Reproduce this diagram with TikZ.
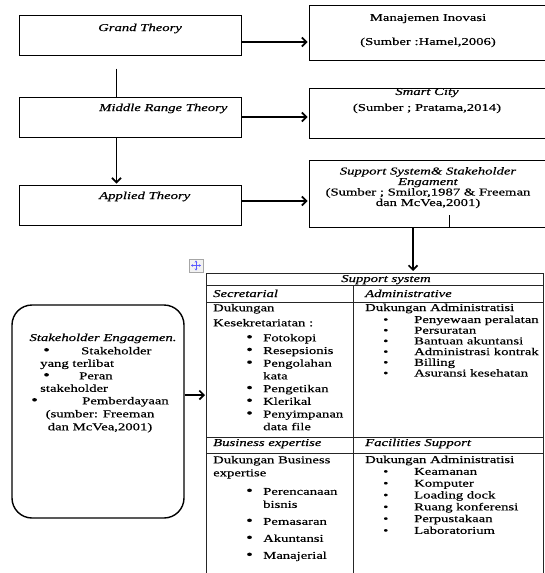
\documentclass[tikz,border=0pt]{standalone}
\usepackage{fontspec}
\setmainfont[FakeStretch=1.4,FakeBold=0.4]{Liberation Serif}
\usetikzlibrary{arrows.meta}

\newcommand{\itm}[2][17pt]{\makebox[#1][l]{\scalebox{1.3}{\textbullet}}#2}
\newcommand{\itms}[2][31pt]{\makebox[#1][l]{\textbullet}#2}
\newcommand{\cnt}[2][17pt]{\hspace*{#1}#2}

\tikzset{
  box/.style={draw, line width=1pt, inner sep=0pt},
  rbox/.style={draw, line width=1.4pt, rounded corners=20pt, inner sep=0pt},
  link/.style={line width=1.7pt},
  conn/.style={link, -{Straight Barb[length=4.5pt,width=9pt,line width=1.7pt]}},
  grid/.style={line width=0.8pt, draw=black!85},
  txt/.style={inner sep=0pt, font=\fontsize{10.5}{12}\selectfont},
  ltxt/.style={txt, align=left, anchor=north west},
  ctxt/.style={txt, align=center, anchor=north},
}

\begin{document}
\begin{tikzpicture}[x=1pt,y=-1pt]
\useasboundingbox (0,0) rectangle (544,573);

% theory boxes
\node[box, minimum width=222pt, minimum height=40pt] (grand) at (130,35) {};
\node[box, minimum width=222pt, minimum height=40pt] (middle) at (130,117) {};
\node[box, minimum width=222pt, minimum height=40pt] (applied) at (130,205) {};
\node[txt, anchor=base west, font=\fontsize{10.5}{12}\selectfont\itshape] (grandtxt) at (98,31) {Grand Theory};
\node[txt, anchor=base west, font=\fontsize{10.5}{12}\selectfont\itshape] (middletxt) at (99,111) {Middle Range Theory};
\node[txt, anchor=base west, font=\fontsize{10.5}{12}\selectfont\itshape] (appliedtxt) at (99,199) {Applied Theory};

% source boxes
\node[box, minimum width=251pt, minimum height=55pt] (manaj) at (434.5,32.5) {};
\node[box, minimum width=251pt, minimum height=50pt] (smart) at (434.5,113) {};
\node[box, minimum width=251pt, minimum height=67pt] (support) at (434.5,193.5) {};
\node[ctxt, font=\fontsize{10.5}{24}\selectfont] (manajtxt) at (428,13.8)
  {Manajemen Inovasi\\(Sumber :Hamel,2006)};
\node[ctxt, font=\fontsize{10.5}{16}\selectfont] (smarttxt) at (427,87.8)
  {\textit{Smart City}\\(Sumber ; Pratama,2014)};
\node[ctxt, font=\fontsize{10.5}{10.5}\selectfont] (supporttxt) at (428,167)
  {\textit{Support System\& Stakeholder}\\\textit{Engament}\\(Sumber ; Smilor,1987 \& Freeman\\dan McVea,2001)};
\draw[line width=1pt] (449,215) -- (449,227);

% connectors
\draw[link] ([xshift=-13.5pt,yshift=-13pt]grand.south) -- ([xshift=-13.5pt]middle.north);
\draw[conn, shorten >=1pt] ([xshift=-13.5pt]middle.south) -- ([xshift=-13.5pt]applied.north);
\draw[conn, shorten >=1pt] ([yshift=-7pt]grand.east) -- ([yshift=-7pt]grand.east -| manaj.west);
\draw[conn, shorten >=1pt] (middle.east) -- (middle.east -| smart.west);
\draw[conn, shorten >=1pt] ([yshift=4pt]applied.east) -- ([yshift=4pt]applied.east -| support.west);

% support system table
\coordinate (tabnw) at (206,273);
\coordinate (tabtop) at (413,271);
\draw[conn] ([xshift=-21.5pt]support.south) -- (tabtop);
\draw[black!35, fill=black!5] (189,259) rectangle (203,272);
\draw[blue!65, line width=0.7pt, <->, >={Stealth[length=2pt,width=2.5pt]}] (191,265.5) -- (201,265.5);
\draw[blue!65, line width=0.7pt, <->, >={Stealth[length=2pt,width=2.5pt]}] (196,260.5) -- (196,270.5);
\foreach \y in {273,285,302,437,453}
  \draw[grid] (206,\y) -- (543,\y);
\draw[grid] (tabnw) -- (206,573);
\draw[grid] (543,273) -- (543,573);
\draw[grid] (353,285) -- (353,573);

\node[txt, anchor=base, font=\fontsize{10.5}{12}\selectfont\itshape] (tabhead) at (386,282) {Support system};
\node[txt, anchor=base west, font=\fontsize{10.5}{12}\selectfont\itshape] (sechead) at (213,297) {Secretarial};
\node[txt, anchor=base west, font=\fontsize{10.5}{12}\selectfont\itshape] (admhead) at (365,297) {Administrative};
\node[txt, anchor=base west, font=\fontsize{10.5}{12}\selectfont\itshape] (bushead) at (213,446) {Business expertise};
\node[txt, anchor=base west, font=\fontsize{10.5}{12}\selectfont\itshape] (fachead) at (365,446) {Facilities Support};

\node[ltxt, font=\fontsize{10.5}{15}\selectfont] (secdesc) at (213,303.8) {Dukungan\\Kesekretariatan :};
\node[ltxt, font=\fontsize{10.5}{12.7}\selectfont] (seclist) at (246,333.8)
  {\itm{Fotokopi}\\\itm{Resepsionis}\\\itm{Pengolahan}\\\cnt{kata}\\\itm{Pengetikan}\\\itm{Klerikal}\\\itm{Penyimpanan}\\\cnt{data file}};
\node[txt, anchor=base west] (admdesc) at (365,311) {Dukungan Administratisi};
\node[ltxt, font=\fontsize{10.5}{10.7}\selectfont] (admlist) at (383,315.5)
  {\itms{Penyewaan peralatan}\\\itms{Persuratan}\\\itms{Bantuan akuntansi}\\\itms{Administrasi kontrak}\\\itms{Billing}\\\itms{Asuransi kesehatan}};

\node[ltxt, font=\fontsize{10.5}{13}\selectfont] (busdesc) at (213,455.8) {Dukungan Business\\expertise};
\node[ltxt, font=\fontsize{10.5}{13}\selectfont] (buslist) at (246,487.8)
  {\itm{Perencanaan}\\\cnt{bisnis}\\[4pt]\itm{Pemasaran}\\[4pt]\itm{Akuntansi}\\[4pt]\itm{Manajerial}};
\node[txt, anchor=base west] (facdesc) at (365,463) {Dukungan Administratisi};
\node[ltxt, font=\fontsize{10.5}{11.8}\selectfont] (faclist) at (383,467.8)
  {\itms{Keamanan}\\\itms{Komputer}\\\itms{Loading dock}\\\itms{Ruang konferensi}\\\itms{Perpustakaan}\\\itms{Laboratorium}};

% stakeholder box
\node[rbox, minimum width=172pt, minimum height=213pt] (stake) at (98,411.5) {};
\node[txt, anchor=base, font=\fontsize{10.5}{12}\selectfont\itshape] (staketxt) at (103,341) {Stakeholder Engagemen.};
\node[ltxt, font=\fontsize{10.5}{12.5}\selectfont] (stakelist) at (31,346.8)
  {\cnt[12pt]{\itm[38pt]{Stakeholder}}\\\cnt[9pt]{yang terlibat}\\\cnt[12pt]{\itm[36pt]{Peran}}\\\cnt[9pt]{stakeholder}\\\itm[51pt]{Pemberdayaan}};
\node[ctxt, font=\fontsize{10.5}{13}\selectfont] (stakesrc) at (100,409.8) {(sumber: Freeman\\dan McVea,2001)};
\draw[conn, shorten >=1pt] ([yshift=16.5pt]stake.east) -- ([yshift=16.5pt]stake.east -| tabnw);
\end{tikzpicture}
\end{document}
